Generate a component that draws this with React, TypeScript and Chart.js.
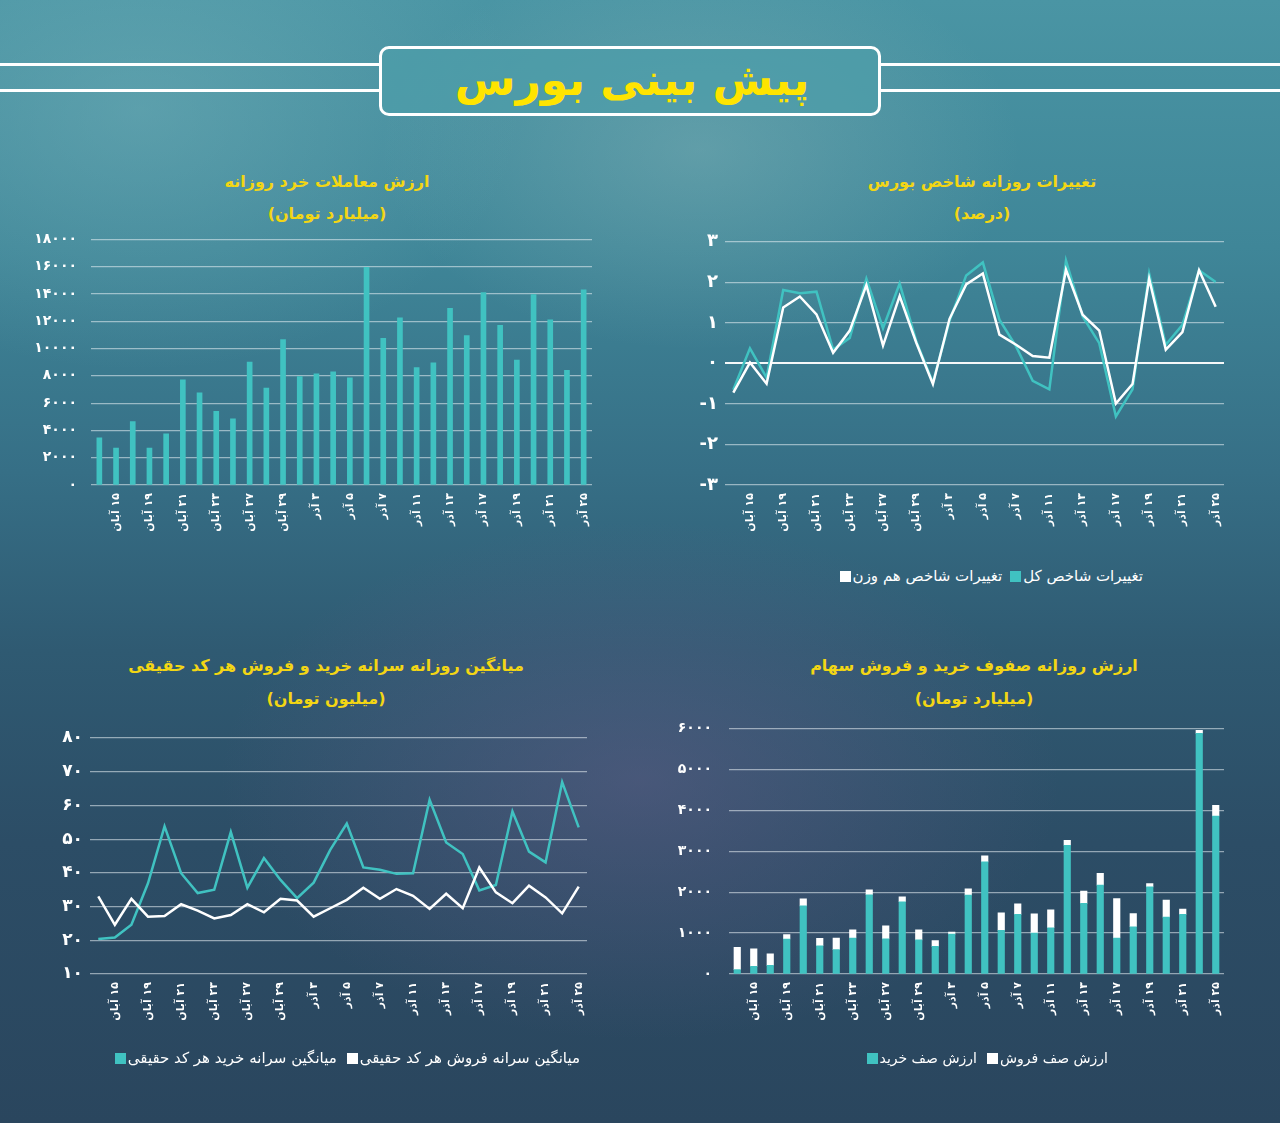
import React, { useEffect, useRef } from "react";
import { Chart, registerables } from "chart.js";
Chart.register(...registerables);

const FA_DIGITS = "۰۱۲۳۴۵۶۷۸۹";
const fa = (v: number | string) => String(v).replace(/\d/g, (d) => FA_DIGITS[+d]);
const RLM = "\u200F";

// 30 trading days (every other one is labelled)
const dates = [
  "۱۴ آبان", "۱۵ آبان", "۱۶ آبان", "۱۹ آبان", "۲۰ آبان", "۲۱ آبان", "۲۲ آبان", "۲۳ آبان",
  "۲۶ آبان", "۲۷ آبان", "۲۸ آبان", "۲۹ آبان", "۳۰ آبان", "۳ آذر", "۴ آذر", "۵ آذر",
  "۶ آذر", "۷ آذر", "۱۰ آذر", "۱۱ آذر", "۱۲ آذر", "۱۳ آذر", "۱۴ آذر", "۱۷ آذر",
  "۱۸ آذر", "۱۹ آذر", "۲۰ آذر", "۲۱ آذر", "۲۴ آذر", "۲۵ آذر",
];

// Chart 1: retail trading value (billion toman)
const retailValue = [
  3450, 2700, 4650, 2700, 3750, 7700, 6750, 5400, 4850, 9000,
  7100, 10650, 7950, 8150, 8300, 7850, 15950, 10750, 12250, 8600,
  8950, 12950, 10950, 14100, 11700, 9150, 13950, 12100, 8400, 14300,
];

// Chart 2: daily index change (%)
const indexEqualWeight = [
  -0.72, 0.02, -0.5, 1.38, 1.65, 1.21, 0.26, 0.81, 1.93, 0.44,
  1.66, 0.51, -0.51, 1.1, 1.95, 2.22, 0.71, 0.46, 0.18, 0.14,
  2.31, 1.2, 0.81, -0.99, -0.51, 2.09, 0.34, 0.77, 2.3, 1.4,
];
const indexTotal = [
  -0.65, 0.37, -0.35, 1.81, 1.73, 1.77, 0.34, 0.63, 2.09, 0.87,
  1.97, 0.55, -0.47, 1.05, 2.17, 2.49, 1.08, 0.42, -0.43, -0.64,
  2.54, 1.16, 0.5, -1.31, -0.64, 2.22, 0.46, 0.95, 2.3, 2.01,
];

// Chart 3: per-capita buy / sell of individuals (million toman)
const buyPerCapita = [
  20.4, 20.8, 24.6, 36.9, 53.8, 39.9, 34.0, 35.0, 52.1, 35.6,
  44.4, 37.9, 32.5, 37.1, 46.8, 54.6, 41.6, 40.9, 39.7, 39.9,
  61.7, 49.0, 45.6, 34.8, 36.4, 58.2, 46.3, 43.1, 66.9, 53.5,
];
const sellPerCapita = [
  33.0, 24.6, 32.3, 27.0, 27.2, 30.7, 28.8, 26.5, 27.5, 30.7,
  28.3, 32.3, 31.8, 27.0, 29.5, 32.0, 35.6, 32.3, 35.2, 33.2,
  29.3, 33.8, 29.5, 41.6, 34.2, 31.0, 36.2, 32.7, 28.0, 35.9,
];

// Chart 4: buy / sell queue value (billion toman)
const buyQueue = [
  105, 185, 210, 855, 1665, 690, 595, 880, 1935, 860,
  1765, 835, 675, 975, 1925, 2740, 1065, 1455, 1000, 1130,
  3145, 1725, 2170, 880, 1155, 2130, 1390, 1455, 5880, 3860,
];
const sellQueue = [
  545, 430, 280, 105, 170, 180, 285, 200, 120, 315,
  120, 245, 140, 50, 155, 145, 430, 260, 470, 440,
  120, 300, 290, 960, 320, 80, 415, 130, 75, 260,
];

const TEAL = "#40c2c1";
const WHITE = "#ffffff";
const GRID = "rgba(235,242,245,0.55)";
const FONT = "'DejaVu Sans', sans-serif";
const TITLE_YELLOW = "#f3d614";

type Box = {
  left: number; top: number; width: number; height: number;
  yw: number; xh: number; pr: number; pt: number;
};

function baseOptions(box: Box, y: any, yFont: number, yPad: number, zeroLine = false) {
  return {
    responsive: false,
    animation: false,
    devicePixelRatio: 1,
    layout: { padding: { top: box.pt, right: box.pr, left: 0, bottom: 0 } },
    plugins: { legend: { display: false }, tooltip: { enabled: false }, title: { display: false } },
    scales: {
      x: {
        offset: true,
        grid: { display: false, drawTicks: false },
        border: { display: false },
        ticks: {
          autoSkip: false,
          minRotation: 90,
          maxRotation: 90,
          color: WHITE,
          padding: 8,
          font: { family: FONT, size: 11, weight: "bold" },
          callback: (_v: any, i: number) => (i % 2 === 1 ? RLM + dates[i] : ""),
        },
        afterFit: (s: any) => { s.height = box.xh; },
      },
      y: {
        ...y,
        grid: {
          drawTicks: false,
          color: (c: any) => (zeroLine && c.tick && c.tick.value === 0 ? "rgba(255,255,255,0.95)" : GRID),
          lineWidth: (c: any) => (zeroLine && c.tick && c.tick.value === 0 ? 2 : 1.2),
        },
        border: { display: false },
        ticks: {
          stepSize: y.stepSize,
          color: WHITE,
          padding: yPad,
          font: { family: FONT, size: yFont, weight: "bold" },
          callback: (v: any) => fa(v),
        },
        afterFit: (s: any) => { s.width = box.yw; },
      },
    },
  };
}

function ChartCanvas({ box, build }: { box: Box; build: () => any }) {
  const ref = useRef<HTMLCanvasElement | null>(null);
  useEffect(() => {
    if (!ref.current) return;
    const chart = new Chart(ref.current, build());
    return () => chart.destroy();
  }, []);
  return (
    <canvas
      ref={ref}
      width={box.width}
      height={box.height}
      style={{ position: "absolute", left: box.left, top: box.top, width: box.width, height: box.height }}
    />
  );
}

function Title({ cx, y1, y2, l1, l2 }: { cx: number; y1: number; y2: number; l1: string; l2: string }) {
  const st: any = {
    position: "absolute", left: cx - 300, width: 600, textAlign: "center", direction: "rtl",
    color: TITLE_YELLOW, fontFamily: FONT, fontSize: 16, fontWeight: "bold", lineHeight: "20px",
  };
  return (
    <>
      <div style={{ ...st, top: y1 - 10 }}>{l1}</div>
      <div style={{ ...st, top: y2 - 10 }}>{l2}</div>
    </>
  );
}

function Legend({ right, cy, gap, size, items }: { right: number; cy: number; gap: number; size: number; items: { label: string; color: string }[] }) {
  return (
    <div
      dir="rtl"
      style={{
        position: "absolute", right, top: cy - 10, height: 20, display: "flex", alignItems: "center",
        gap, color: WHITE, fontFamily: FONT, fontSize: size, lineHeight: "20px", whiteSpace: "nowrap",
      }}
    >
      {items.map((it) => (
        <span key={it.label} style={{ display: "flex", alignItems: "center", gap: 2 }}>
          <span>{it.label}</span>
          <span style={{ display: "inline-block", width: 11, height: 11, background: it.color }} />
        </span>
      ))}
    </div>
  );
}

const box1: Box = { left: 10, top: 217, width: 600, height: 328, yw: 81, xh: 60, pr: 18, pt: 0 };
const box2: Box = { left: 640, top: 224, width: 600, height: 321, yw: 85, xh: 60, pr: 16, pt: 0 };
const box3: Box = { left: 10, top: 720, width: 600, height: 330, yw: 80, xh: 76, pr: 23, pt: 18 };
const box4: Box = { left: 640, top: 703, width: 600, height: 347, yw: 89, xh: 76, pr: 16, pt: 0 };

export default function App() {
  const bg = [
    "radial-gradient(ellipse 420px 260px at 640px 780px, rgba(105,95,140,0.45), rgba(105,95,140,0) 100%)",
    "radial-gradient(ellipse 380px 260px at 140px 110px, rgba(120,180,188,0.45), rgba(120,180,188,0) 100%)",
    "radial-gradient(ellipse 320px 200px at 700px 150px, rgba(150,190,190,0.35), rgba(150,190,190,0) 100%)",
    "linear-gradient(180deg, #4a95a4 0%, #3f8698 22%, #366f86 42%, #2f5a72 58%, #2c4d66 75%, #2a465e 100%)",
  ].join(",");
  const line = (top: number, left: number, width: number) => (
    <div style={{ position: "absolute", left, top: top - 1.5, width, height: 3, background: WHITE }} />
  );
  return (
    <div style={{ position: "absolute", left: 0, top: 0, width: 1280, height: 1123, overflow: "hidden", background: bg }}>
      {line(64, 0, 382)}
      {line(90, 0, 382)}
      {line(64, 878, 402)}
      {line(90, 878, 402)}
      <div
        style={{
          position: "absolute", left: 379, top: 46, width: 502, height: 70, boxSizing: "border-box",
          border: "3px solid #fff", borderRadius: 10, background: "rgba(78,158,170,0.75)",
        }}
      />
      <div
        dir="rtl"
        style={{
          position: "absolute", left: 332, top: 50, width: 600, height: 60, textAlign: "center",
          color: "#ffe400", fontFamily: FONT, fontWeight: "bold", fontSize: 44, lineHeight: "60px",
        }}
      >
        پیش بینی بورس
      </div>

      <Title cx={327} y1={182} y2={214} l1="ارزش معاملات خرد روزانه" l2="(میلیارد تومان)" />
      <Title cx={982} y1={182} y2={214} l1="تغییرات روزانه شاخص بورس" l2="(درصد)" />
      <Title cx={326} y1={666} y2={699} l1="میانگین روزانه سرانه خرید و فروش هر کد حقیقی" l2="(میلیون تومان)" />
      <Title cx={974} y1={666} y2={699} l1="ارزش روزانه صفوف خرید و فروش سهام" l2="(میلیارد تومان)" />

      <ChartCanvas
        box={box1}
        build={() => ({
          type: "bar",
          data: {
            labels: dates,
            datasets: [{ label: "ارزش معاملات خرد", data: retailValue, backgroundColor: TEAL, barThickness: 5 }],
          },
          options: baseOptions(box1, { min: 0, max: 18000, stepSize: 2000 }, 14, 14),
        })}
      />

      <ChartCanvas
        box={box2}
        build={() => ({
          type: "line",
          data: {
            labels: dates,
            datasets: [
              { label: "تغییرات شاخص هم وزن", data: indexEqualWeight, borderColor: WHITE, backgroundColor: WHITE, borderWidth: 2.5, pointRadius: 0, tension: 0 },
              { label: "تغییرات شاخص کل", data: indexTotal, borderColor: TEAL, backgroundColor: TEAL, borderWidth: 2.5, pointRadius: 0, tension: 0 },
            ],
          },
          options: baseOptions(box2, { min: -3, max: 3, stepSize: 1 }, 18, 7, true),
        })}
      />
      <Legend
        right={137}
        cy={576}
        gap={8}
        size={15}
        items={[
          { label: "تغییرات شاخص کل", color: TEAL },
          { label: "تغییرات شاخص هم وزن", color: WHITE },
        ]}
      />

      <ChartCanvas
        box={box3}
        build={() => ({
          type: "line",
          data: {
            labels: dates,
            datasets: [
              { label: "میانگین سرانه فروش هر کد حقیقی", data: sellPerCapita, borderColor: WHITE, backgroundColor: WHITE, borderWidth: 2.5, pointRadius: 0, tension: 0 },
              { label: "میانگین سرانه خرید هر کد حقیقی", data: buyPerCapita, borderColor: TEAL, backgroundColor: TEAL, borderWidth: 2.5, pointRadius: 0, tension: 0 },
            ],
          },
          options: baseOptions(box3, { min: 10, max: 80, stepSize: 10 }, 17, 7),
        })}
      />
      <Legend
        right={700}
        cy={1058}
        gap={10}
        size={15}
        items={[
          { label: "میانگین سرانه فروش هر کد حقیقی", color: WHITE },
          { label: "میانگین سرانه خرید هر کد حقیقی", color: TEAL },
        ]}
      />

      <ChartCanvas
        box={box4}
        build={() => {
          const o: any = baseOptions(box4, { min: 0, max: 6000, stepSize: 1000, stacked: true }, 14, 17);
          o.scales.x.stacked = true;
          return {
            type: "bar",
            data: {
              labels: dates,
              datasets: [
                { label: "ارزش صف خرید", data: buyQueue, backgroundColor: TEAL, barThickness: 6.5 },
                { label: "ارزش صف فروش", data: sellQueue, backgroundColor: WHITE, barThickness: 6.5 },
              ],
            },
            options: o,
          };
        }}
      />
      <Legend
        right={172}
        cy={1058}
        gap={10}
        size={14}
        items={[
          { label: "ارزش صف فروش", color: WHITE },
          { label: "ارزش صف خرید", color: TEAL },
        ]}
      />
    </div>
  );
}
